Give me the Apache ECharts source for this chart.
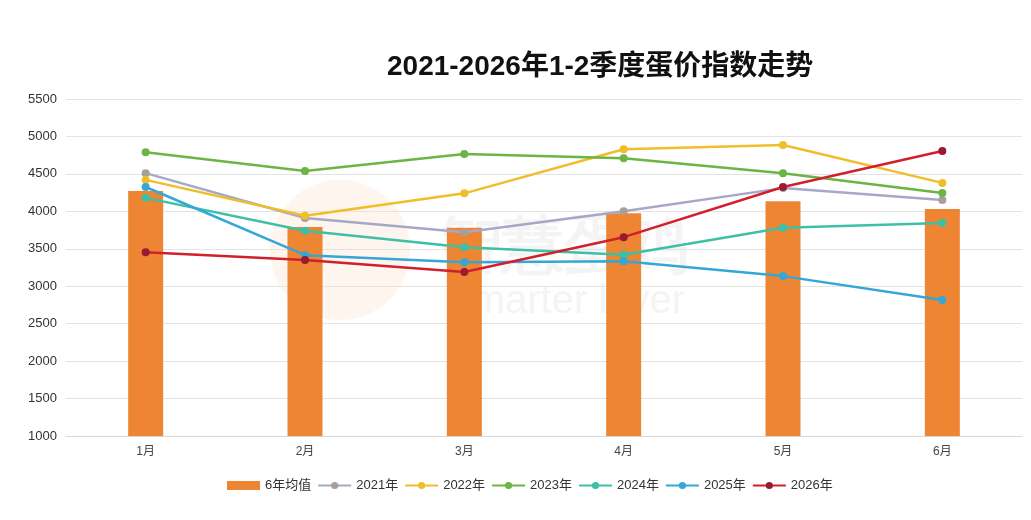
<!DOCTYPE html>
<html>
<head>
<meta charset="utf-8">
<script src="https://cdn.jsdelivr.net/npm/echarts@6/dist/echarts.min.js"></script>
<style>
  html, body {margin: 0; padding: 0; background: #fff;}
  #chart {width: 1031px; height: 520px;}
</style>
</head>
<body>
<div id="chart"></div>
<script>
const months = ['1月', '2月', '3月', '4月', '5月', '6月'];
const avg6 = [4270, 3790, 3780, 3975, 4135, 4030];
const y2021 = [4510, 3910, 3720, 4000, 4310, 4150];
const y2022 = [4420, 3940, 4240, 4830, 4885, 4380];
const y2023 = [4790, 4540, 4765, 4710, 4510, 4245];
const y2024 = [4180, 3740, 3520, 3420, 3780, 3845];
const y2025 = [4325, 3415, 3320, 3335, 3135, 2815];
const y2026 = [3455, 3350, 3190, 3655, 4325, 4805];

const chart = echarts.init(document.getElementById('chart'));

const lineSeries = (name, data, color, dot) => ({
    name: name,
    type: 'line',
    data: data,
    symbol: 'circle',
    symbolSize: 8,
    lineStyle: {width: 2.5, color: color},
    itemStyle: {color: dot || color},
    z: 3
});

chart.setOption({
    textStyle: {fontFamily: '"Liberation Sans", "Noto Sans CJK SC", sans-serif'},
    title: {
        text: '2021-2026年1-2季度蛋价指数走势',
        left: 382,
        top: 48,
        textStyle: {
            fontSize: 28, fontWeight: 'bold', color: '#111',
            fontFamily: '"Liberation Sans", "Noto Sans CJK SC", sans-serif'
        }
    },
    graphic: [
        {
            type: 'circle',
            shape: {cx: 340, cy: 250, r: 70},
            style: {fill: 'rgba(240,190,140,0.15)'}
        },
        {
            type: 'text',
            left: 440,
            top: 218,
            style: {text: '智慧蛋鸡', fontSize: 62, fontWeight: 'bold', fill: 'rgba(200,200,200,0.2)'}
        },
        {
            type: 'text',
            left: 445,
            top: 282,
            style: {text: 'Smarter layer', fontSize: 40, fill: 'rgba(200,200,200,0.2)'}
        }
    ],
    legend: {
        bottom: 23,
        left: 222,
        itemGap: 6,
        itemWidth: 33,
        itemHeight: 9,
        textStyle: {fontSize: 13, color: '#333'},
        data: [
            {name: '6年均值', icon: 'rect'},
            '2021年', '2022年', '2023年', '2024年', '2025年', '2026年'
        ]
    },
    grid: {left: 66, right: 9, top: 99, bottom: 84},
    xAxis: {
        type: 'category',
        data: months,
        axisLine: {lineStyle: {color: '#d9d9d9'}},
        axisTick: {show: false},
        axisLabel: {color: '#444', fontSize: 12, margin: 10}
    },
    yAxis: {
        type: 'value',
        min: 1000,
        max: 5500,
        interval: 500,
        axisLine: {show: false},
        axisTick: {show: false},
        splitLine: {lineStyle: {color: '#e3e3e3'}},
        axisLabel: {
            color: '#333', fontSize: 13, margin: 9,
            formatter: v => String(v)
        }
    },
    series: [
        {
            name: '6年均值',
            type: 'bar',
            data: avg6,
            barWidth: 35,
            itemStyle: {color: '#EE8532'},
            z: 2
        },
        lineSeries('2021年', y2021, '#A6A8C8', '#A89E9A'),
        lineSeries('2022年', y2022, '#F0BE2A'),
        lineSeries('2023年', y2023, '#6CB443'),
        lineSeries('2024年', y2024, '#3CC0A6'),
        lineSeries('2025年', y2025, '#35A7D6'),
        lineSeries('2026年', y2026, '#D0202E', '#9A1A33')
    ]
});
</script>
</body>
</html>
